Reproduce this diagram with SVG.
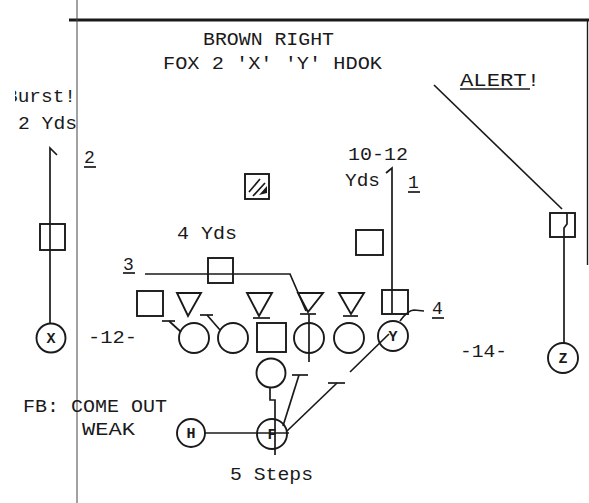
<svg xmlns="http://www.w3.org/2000/svg" width="589" height="503" viewBox="0 0 589 503">
<style>
.t{font-family:"Liberation Mono","DejaVu Sans Mono",monospace;font-size:18px;fill:#1a1a1a}
.c{font-family:"Liberation Mono","DejaVu Sans Mono",monospace;font-size:15px;font-weight:bold;fill:#1a1a1a;text-anchor:middle}
.s{fill:none;stroke:#1a1a1a;stroke-width:1.9;stroke-linejoin:miter}
.l{fill:none;stroke:#1a1a1a;stroke-width:1.7}
</style>
<defs>
<clipPath id="clipB"><rect x="15" y="80" width="70" height="30"/></clipPath>
</defs>
<rect width="589" height="503" fill="#ffffff"/>
<g id="frame">
<line x1="69" y1="20" x2="589" y2="20" stroke="#1a1a1a" stroke-width="3.2"/>
<line x1="587.5" y1="19" x2="587.5" y2="265" stroke="#1a1a1a" stroke-width="1.4"/>
<line x1="77" y1="0" x2="77" y2="503" stroke="#444" stroke-width="1"/>
</g>
<g id="texts">
<text class="t" x="203" y="45" textLength="131" lengthAdjust="spacingAndGlyphs">BROWN RIGHT</text>
<text class="t" x="163" y="69" textLength="219" lengthAdjust="spacingAndGlyphs">FOX 2 'X' 'Y' HDOK</text>
<text class="t" x="6" y="102" textLength="70" lengthAdjust="spacingAndGlyphs" clip-path="url(#clipB)">Burst!</text>
<text class="t" x="18" y="129" textLength="59" lengthAdjust="spacingAndGlyphs">2 Yds</text>
<text class="t" x="84" y="163">2</text>
<line class="l" x1="84" y1="167" x2="96" y2="167"/>
<text class="t" x="460" y="86" textLength="80" lengthAdjust="spacingAndGlyphs">ALERT!</text>
<line class="l" x1="460" y1="89" x2="530" y2="89"/>
<text class="t" x="348" y="160" textLength="60" lengthAdjust="spacingAndGlyphs">10-12</text>
<text class="t" x="345" y="186" textLength="35" lengthAdjust="spacingAndGlyphs">Yds</text>
<text class="t" x="408" y="188">1</text>
<line class="l" x1="408" y1="192" x2="420" y2="192"/>
<text class="t" x="177" y="239" textLength="60" lengthAdjust="spacingAndGlyphs">4 Yds</text>
<text class="t" x="123" y="270">3</text>
<line class="l" x1="123" y1="273" x2="135" y2="273"/>
<text class="t" x="88" y="343" textLength="49" lengthAdjust="spacingAndGlyphs">-12-</text>
<text class="t" x="432" y="314">4</text>
<line class="l" x1="432" y1="318" x2="444" y2="318"/>
<text class="t" x="460" y="357" textLength="47" lengthAdjust="spacingAndGlyphs">-14-</text>
<text class="t" x="23" y="412" textLength="144" lengthAdjust="spacingAndGlyphs">FB: COME OUT</text>
<text class="t" x="82" y="435" textLength="53" lengthAdjust="spacingAndGlyphs">WEAK</text>
<text class="t" x="230" y="480" textLength="83" lengthAdjust="spacingAndGlyphs">5 Steps</text>
</g>
<g id="connectors">
<polyline class="l" points="50,323 50,148 57,155"/>
<polyline class="l" points="392,313 392,168 386,173"/>
<polyline class="l" points="145,274 290,274 306,311"/>
<path class="l" d="M400,321 Q408,310 414,310 L424,311"/>
<line class="l" x1="434" y1="85" x2="562" y2="209"/>
<polyline class="l" points="567,213 567,224 564,228 564,343"/>
<line class="l" x1="162" y1="321" x2="175" y2="321"/>
<line class="l" x1="169" y1="321" x2="181" y2="332"/>
<line class="l" x1="200" y1="315" x2="213" y2="315"/>
<line class="l" x1="207" y1="315" x2="220" y2="330"/>
<line class="l" x1="253" y1="318" x2="270" y2="318" stroke-width="2.3"/>
<line class="l" x1="300" y1="314" x2="316" y2="314" stroke-width="2.3"/>
<line class="l" x1="343" y1="316" x2="358" y2="316" stroke-width="2.3"/>
<line class="l" x1="309" y1="314" x2="309" y2="362"/>
<polyline class="l" points="270,387 270,400 275,400 275,455"/>
<line class="l" x1="205" y1="433" x2="289" y2="433"/>
<line class="l" x1="283" y1="426" x2="299" y2="375"/>
<line class="l" x1="292" y1="375" x2="308" y2="375"/>
<line class="l" x1="287" y1="431" x2="337" y2="383"/>
<line class="l" x1="328" y1="383" x2="345" y2="383"/>
<line class="l" x1="350" y1="372" x2="389" y2="334"/>
</g>
<g id="node-x"><circle class="s" cx="51" cy="338" r="14.5"/><text class="c" x="51" y="343">X</text></g>
<g id="node-x-mark"><rect class="s" x="40" y="224" width="25" height="26"/></g>
<g id="node-hatched"><rect class="s" x="245" y="174" width="24" height="25" stroke-width="2.2"/><path class="l" d="M249,192 L260,179 M253,196 L265,183"/><path d="M259,195 L267,186 L267,193 Z" fill="#1a1a1a"/></g>
<g id="node-box-4yds"><rect class="s" x="208" y="258" width="25" height="25"/></g>
<g id="node-box-right"><rect class="s" x="356" y="230" width="27" height="25"/></g>
<g id="node-z-mark"><rect class="s" x="550" y="213" width="25" height="24"/></g>
<g id="node-d1"><rect class="s" x="137" y="291" width="26" height="25"/></g>
<g id="node-d2"><polygon class="s" points="177,293 201,293 188,316"/></g>
<g id="node-d3"><polygon class="s" points="247,293 272,293 259,316"/></g>
<g id="node-d4"><polygon class="s" points="298,293 323,293 308,312"/></g>
<g id="node-d5"><polygon class="s" points="339,293 364,293 351,314"/></g>
<g id="node-d6"><rect class="s" x="382" y="290" width="26" height="24"/></g>
<g id="node-ol1"><circle class="s" cx="194" cy="338" r="15"/></g>
<g id="node-ol2"><circle class="s" cx="233" cy="338" r="15"/></g>
<g id="node-center"><rect class="s" x="257" y="323" width="29" height="29"/></g>
<g id="node-ol4"><circle class="s" cx="309" cy="338" r="15"/></g>
<g id="node-ol5"><circle class="s" cx="349" cy="338" r="15"/></g>
<g id="node-y"><circle class="s" cx="393" cy="336" r="15"/><text class="c" x="393" y="341">Y</text></g>
<g id="node-qb"><circle class="s" cx="271" cy="373" r="14.5"/></g>
<g id="node-f"><circle class="s" cx="272" cy="434" r="15"/><text class="c" x="272" y="439">F</text></g>
<g id="node-h"><circle class="s" cx="191" cy="433" r="14"/><text class="c" x="191" y="438">H</text></g>
<g id="node-z"><circle class="s" cx="563" cy="358" r="15"/><text class="c" x="563" y="363">Z</text></g>
</svg>
